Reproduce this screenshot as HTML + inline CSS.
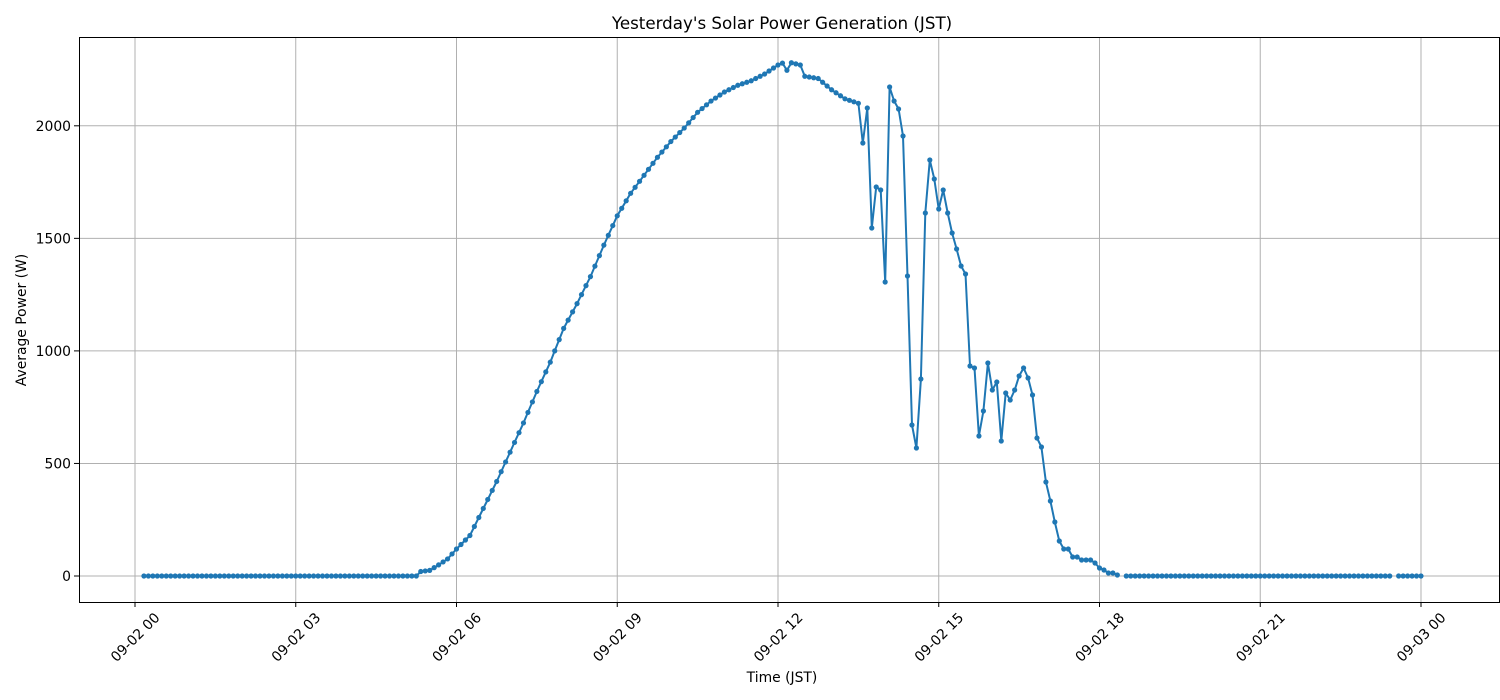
<!DOCTYPE html>
<html><head><meta charset="utf-8"><style>
body{margin:0;background:#fff}
svg{display:block;font-family:"DejaVu Sans","Liberation Sans",sans-serif}
</style></head><body>
<svg id="s" width="1500" height="700" xmlns="http://www.w3.org/2000/svg">
<rect width="1500" height="700" fill="#fff"/>
<g id="grid" stroke="#b0b0b0" stroke-width="1"></g>
<g id="ticks" font-size="13.9" fill="#000"></g>
<polyline id="ln" fill="none" stroke="#1f77b4" stroke-width="2" stroke-linejoin="round"/>
<g id="mk" fill="#1f77b4"></g>
<rect x="79.5" y="37.5" width="1420" height="565" fill="none" stroke="#000" stroke-width="1"/>
<text x="782" y="29" font-size="16.7" text-anchor="middle">Yesterday's Solar Power Generation (JST)</text>
<text x="782" y="682" font-size="13.9" text-anchor="middle">Time (JST)</text>
<text transform="translate(26,320) rotate(-90)" font-size="13.9" text-anchor="middle">Average Power (W)</text>
</svg>
<script>
const NS="http://www.w3.org/2000/svg";
const X=h=>135+h*53.583, Y=w=>576-w*0.2251;
const g=document.getElementById('grid'),tk=document.getElementById('ticks');
function el(p,tag,a,t){const e=document.createElementNS(NS,tag);for(const k in a)e.setAttribute(k,a[k]);if(t!==undefined)e.textContent=String(t);p.appendChild(e);return e;}
const xl=["09-02 00","09-02 03","09-02 06","09-02 09","09-02 12","09-02 15","09-02 18","09-02 21","09-03 00"];
xl.forEach((l,i)=>{const x=X(i*3);el(g,'line',{x1:x,x2:x,y1:37,y2:602});el(tk,'line',{x1:x,x2:x,y1:602,y2:607,stroke:'#000'});
el(tk,'text',{'text-anchor':'middle',transform:`translate(${x},${637}) rotate(-45)`,dy:'5'},l);});
[0,500,1000,1500,2000].forEach(v=>{const y=Y(v);el(g,'line',{x1:79,x2:1499,y1:y,y2:y});el(tk,'line',{x1:74,x2:79,y1:y,y2:y,stroke:'#000'});
el(tk,'text',{'text-anchor':'end',x:71,y:y+5},String(v));});
const key=[[5.25,0],[5.33,20],[5.5,25],[5.67,50],[5.83,75],[6,120],[6.25,180],[6.5,300],[6.75,420],[7,550],[7.25,680],[7.5,820],[7.75,950],[8,1100],[8.25,1210],[8.5,1330],[8.75,1470],[9,1600],[9.25,1700],[9.5,1780],[9.75,1860],[10,1930],[10.25,1990],[10.5,2060],[10.75,2110],[11,2150],[11.25,2180],[11.5,2200],[11.75,2230],[12,2270],[12.1,2280],[12.17,2245],[12.25,2280],[12.42,2270],[12.5,2220],[12.75,2210],[13,2160],[13.25,2120],[13.5,2100]];
function interp(t){for(let i=0;i<key.length-1;i++){if(t>=key[i][0]&&t<=key[i+1][0]){const f=(t-key[i][0])/(key[i+1][0]-key[i][0]);return key[i][1]+f*(key[i+1][1]-key[i][1]);}}return 0;}
const day=[[862,143],[866,108],[871,228],[875,187],[880,190],[884,282],[889,87],[893,101],[898,109],[902,136],[907,276],[911,425],[915,448],[920,379],[924,213],[929,160],[933,179],[938,209],[942,190],[947,213],[951,233],[956,249],[960,266],[965,274],[969,366],[974,368],[978,436],[982,411],[987,363],[991,390],[996,382],[1000,441],[1005,393],[1009,400],[1014,390],[1018,376],[1022,368],[1027,378],[1031,395],[1036,438],[1040,447],[1045,482],[1049,501],[1054,522],[1058,541],[1063,549],[1067,549],[1072,557],[1076,557],[1081,560],[1085,560],[1090,560],[1094,563],[1099,568],[1103,570],[1108,573],[1112,573],[1117,575]];
const segs=[[]];
for(let m=10;m<=1440;m+=5){const t=m/60;
 if(m===1105||m===1410){segs.push([]);continue;}
 let p;
 if(t<13.55){p=[X(t),Y(t<5.25?0:interp(t))];}
 else{const x=X(t);if(x<1119){let b=day[0];day.forEach(d=>{if(Math.abs(d[0]-x)<Math.abs(b[0]-x))b=d});p=[x,b[1]];}else p=[x,576];}
 segs[segs.length-1].push(p);}
const ln=document.getElementById('ln'),mk=document.getElementById('mk');
segs.forEach((s,i)=>{const pl=i===0?ln:el(document.getElementById('s'),'polyline',{fill:'none',stroke:'#1f77b4','stroke-width':2});
 pl.setAttribute('points',s.map(p=>p[0].toFixed(1)+','+p[1].toFixed(1)).join(' '));
 s.forEach(p=>el(mk,'circle',{cx:p[0],cy:p[1],r:2.6}));});
document.getElementById('s').appendChild(mk);
</script>
</body></html>
